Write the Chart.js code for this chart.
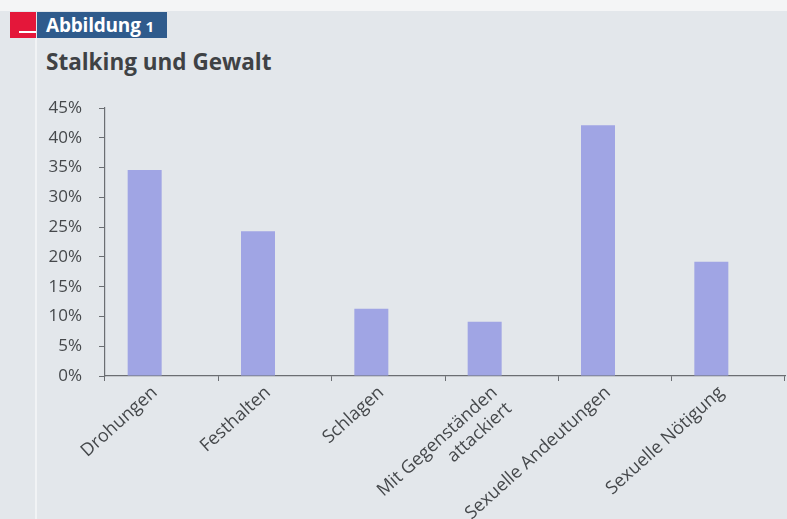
<!DOCTYPE html>
<html>
<head>
<meta charset="utf-8">
<script src="https://cdn.jsdelivr.net/npm/chart.js@4"></script>
<style>
  html, body { margin: 0; padding: 0; }
  body { width: 787px; height: 519px; position: relative; overflow: hidden; background: #e3e7eb; font-family: "Open Sans", sans-serif; }
  .top-strip { position: absolute; left: 0; top: 0; width: 787px; height: 11px; background: #f4f5f6; }
  .red-box { position: absolute; left: 10px; top: 12px; width: 26px; height: 26px; background: #e4173a; }
  .red-box::after { content: ""; position: absolute; left: 9px; top: 19px; width: 17px; height: 2px; background: #fff; }
  .fig-label { position: absolute; left: 37px; top: 12px; width: 130px; height: 26px; background: #2f5b8c; color: #fff; font-weight: 700; font-size: 19px; line-height: 26px; padding-left: 9px; box-sizing: border-box; letter-spacing: -0.2px; }
  .fig-label small { font-size: 15px; }
  .divider { position: absolute; left: 35px; top: 38px; width: 2px; height: 481px; background: #f1f3f5; }
  .title { position: absolute; left: 46px; top: 46px; font-size: 22.5px; font-weight: 700; color: #3f4245; }
  #chart { position: absolute; left: 0; top: 0; }
</style>
</head>
<body>
<div class="top-strip"></div>
<div class="red-box"></div>
<div class="fig-label">Abbildung <small>1</small></div>
<div class="divider"></div>
<div class="title">Stalking und Gewalt</div>
<canvas id="chart" width="787" height="519"></canvas>
<script>
// ===================== Data =====================
const categories = [
    'Drohungen',
    'Festhalten',
    'Schlagen',
    ['Mit Gegenständen', 'attackiert'],
    'Sexuelle Andeutungen',
    'Sexuelle Nötigung'
];
const shares = [34.6, 24.3, 11.3, 9.1, 42.1, 19.2];
// second (empty) series of the original chart, keeps the bars left of centre
const emptySeries = [null, null, null, null, null, null];
const yTicks = [0, 5, 10, 15, 20, 25, 30, 35, 40, 45];

const textColor = '#45484b';
const axisColor = '#6b6e72';

// ===================== Chart Setup =====================
function setupChart() {
    new Chart(document.getElementById('chart').getContext('2d'), {
        type: 'bar',
        data: {
            labels: categories,
            datasets: [{
                label: 'Anteil',
                data: shares,
                backgroundColor: '#a0a5e4',
                barPercentage: 1,
                categoryPercentage: 0.6
            }, {
                label: '',
                data: emptySeries,
                backgroundColor: 'transparent',
                barPercentage: 1,
                categoryPercentage: 0.6
            }]
        },
        options: {
            responsive: false,
            animation: false,
            layout: { padding: { top: 108, right: 2, left: 0, bottom: 0 } },
            plugins: { legend: { display: false }, tooltip: { enabled: false } },
            scales: {
                x: {
                    grid: { offset: true, drawOnChartArea: false, drawTicks: true, tickLength: 5, color: axisColor },
                    border: { color: axisColor, width: 1.2 },
                    ticks: {
                        color: textColor,
                        font: { family: 'Open Sans', size: 18 },
                        minRotation: 42,
                        maxRotation: 42,
                        autoSkip: false,
                        labelOffset: -7,
                        padding: 1
                    },
                    afterFit: (axis) => { axis.height = 143; }
                },
                y: {
                    min: 0,
                    max: 45,
                    afterBuildTicks: (axis) => { axis.ticks = yTicks.map(v => ({ value: v })); },
                    grid: { drawOnChartArea: false, drawTicks: true, tickLength: 6, color: axisColor },
                    border: { color: axisColor, width: 1.2 },
                    ticks: {
                        color: textColor,
                        font: { family: 'Open Sans', size: 17 },
                        padding: 17,
                        callback: (v) => v + '%'
                    },
                    afterFit: (axis) => { axis.width = 105; }
                }
            }
        }
    });
}
document.addEventListener('DOMContentLoaded', setupChart);
</script>
</body>
</html>
